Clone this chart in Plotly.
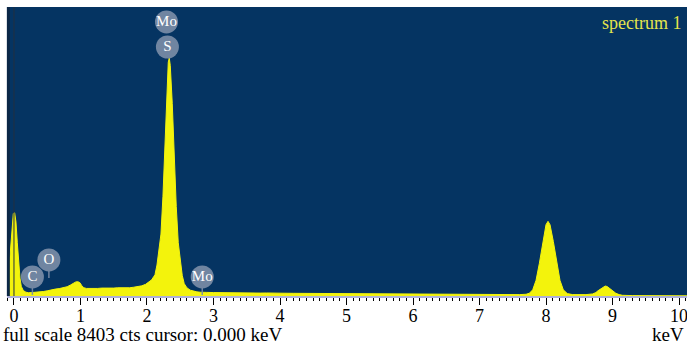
import plotly.graph_objects as go

# EDS spectrum: energy (keV) and counts
energy_kev = [
    -0.10, -0.09, -0.07, -0.05, -0.03, -0.01, 0.01, 0.03, 0.05, 0.07, 0.09, 0.11,
    0.14, 0.18, 0.22, 0.27, 0.32, 0.38, 0.44, 0.50, 0.56, 0.62, 0.68, 0.74, 0.80,
    0.85, 0.89, 0.93, 0.96, 0.99, 1.02, 1.05, 1.09, 1.14, 1.20, 1.26, 1.32, 1.38,
    1.44, 1.50, 1.56, 1.62, 1.68, 1.74, 1.80, 1.86, 1.92, 1.98, 2.03, 2.07, 2.10,
    2.12, 2.15, 2.18, 2.21, 2.24, 2.27, 2.30, 2.32, 2.335, 2.35, 2.38, 2.41, 2.44,
    2.47, 2.50, 2.53, 2.56, 2.60, 2.65, 2.70, 2.75, 2.80, 2.85, 2.90, 3.00, 3.10,
    3.20, 3.30, 3.40, 3.50, 3.60, 3.70, 3.80, 3.90, 4.00, 4.20, 4.40, 4.60, 4.80,
    5.00, 5.20, 5.40, 5.60, 5.80, 6.00, 6.20, 6.40, 6.60, 6.80, 7.00, 7.20, 7.40,
    7.60, 7.70, 7.75, 7.80, 7.85, 7.90, 7.95, 8.00, 8.03, 8.06, 8.11, 8.16, 8.21,
    8.26, 8.32, 8.40, 8.50, 8.60, 8.70, 8.75, 8.78, 8.82, 8.86, 8.89, 8.92, 8.96,
    9.00, 9.05, 9.10, 9.15, 9.30, 9.50, 9.70, 9.90, 10.12,
]
counts = [
    150, 400, 900, 1500, 2050, 2400, 2420, 2150, 1550, 950, 520, 280,
    160, 110, 95, 100, 105, 115, 130, 150, 185, 200, 215, 245, 270,
    320, 370, 410, 415, 390, 300, 240, 220, 215, 225, 220, 230, 225,
    235, 230, 240, 235, 245, 240, 255, 270, 295, 340, 400, 470, 560,
    620, 900, 1300, 1800, 2900, 4300, 6000, 6800, 6920, 6700, 5600, 4000, 2600,
    1550, 1050, 600, 360, 240, 170, 140, 120, 110, 115, 105, 100, 95,
    100, 90, 95, 88, 90, 85, 88, 80, 82, 78, 75, 72, 70,
    68, 65, 62, 58, 55, 52, 50, 48, 45, 42, 40, 38, 36,
    40, 50, 80, 180, 455, 950, 1585, 2075, 2170, 2075, 1585, 950, 455,
    180, 70, 40, 35, 40, 60, 100, 150, 210, 270, 290, 275, 220,
    150, 80, 40, 20, 12, 10, 8, 6, 5,
]

# Element markers: name, line energy (keV), label height (counts)
element_names = ["C", "O", "S", "Mo", "Mo"]
element_kev = [0.277, 0.525, 2.307, 2.293, 2.831]
element_level = [555, 1050, 7240, 7970, 555]
element_stem = [True, True, False, False, True]

full_scale = 8403
x_min, x_max = -0.105, 10.12
major_ticks = list(range(0, 11))

NAVY = "#053462"
YELLOW = "#f3f30c"
BADGE = "rgba(122,140,166,0.92)"
SERIF = "Liberation Serif"

fig = go.Figure()

fig.add_trace(go.Scatter(
    x=energy_kev, y=counts, mode="lines",
    line=dict(color=YELLOW, width=1),
    fill="tozeroy", fillcolor=YELLOW,
    hoverinfo="skip", showlegend=False,
))

# Element badges
fig.add_trace(go.Scatter(
    x=element_kev, y=element_level, mode="markers+text",
    marker=dict(size=23, color=BADGE, line=dict(width=0)),
    text=element_names, textposition="middle center",
    textfont=dict(family=SERIF, size=15, color="white"),
    hoverinfo="skip", showlegend=False,
))

shapes = []
for kev, lvl, stem in zip(element_kev, element_level, element_stem):
    if stem:
        shapes.append(dict(
            type="line", xref="x", yref="y", ysizemode="pixel", yanchor=lvl,
            x0=kev, x1=kev, y0=-11, y1=-18,
            line=dict(color=BADGE, width=1.5),
        ))

# Cursor at 0 keV and left frame edge
shapes.append(dict(type="line", xref="x", yref="paper", x0=0, x1=0, y0=0, y1=1,
                   line=dict(color="#22303f", width=1)))
shapes.append(dict(type="line", xref="paper", yref="paper", x0=0.002, x1=0.002, y0=0, y1=1,
                   line=dict(color="#0b2746", width=3)))

fig.update_layout(
    width=687, height=345,
    margin=dict(l=7, r=0, t=7, b=49),
    paper_bgcolor="white", plot_bgcolor=NAVY,
    shapes=shapes,
    xaxis=dict(
        range=[x_min, x_max], tickmode="array", tickvals=major_ticks,
        ticktext=[str(t) for t in major_ticks],
        ticks="outside", ticklen=7, tickwidth=1, tickcolor="black",
        minor=dict(dtick=0.1, tick0=0, ticks="outside", ticklen=3, tickwidth=1, tickcolor="black"),
        showline=True, linecolor="#aeb0d8", linewidth=2,
        showgrid=False, zeroline=False,
        ticklabeloverflow="allow",
        ticklabelstandoff=-5,
        tickfont=dict(family=SERIF, size=18, color="black"),
        fixedrange=True,
    ),
    yaxis=dict(range=[0, full_scale], visible=False, fixedrange=True),
    annotations=[
        dict(text="spectrum 1", xref="paper", yref="paper", x=0.994, y=0.945,
             xanchor="right", yanchor="middle", showarrow=False,
             font=dict(family=SERIF, size=18, color="#e4e44c")),
        dict(text="full scale 8403 cts cursor: 0.000 keV", xref="paper", yref="paper",
             x=-0.009, y=-0.133, xanchor="left", yanchor="middle", showarrow=False,
             font=dict(family=SERIF, size=19, color="black")),
        dict(text="keV", xref="paper", yref="paper", x=0.999, y=-0.133,
             xanchor="right", yanchor="middle", showarrow=False,
             font=dict(family=SERIF, size=19, color="black")),
    ],
)

fig.write_html("out.html")
